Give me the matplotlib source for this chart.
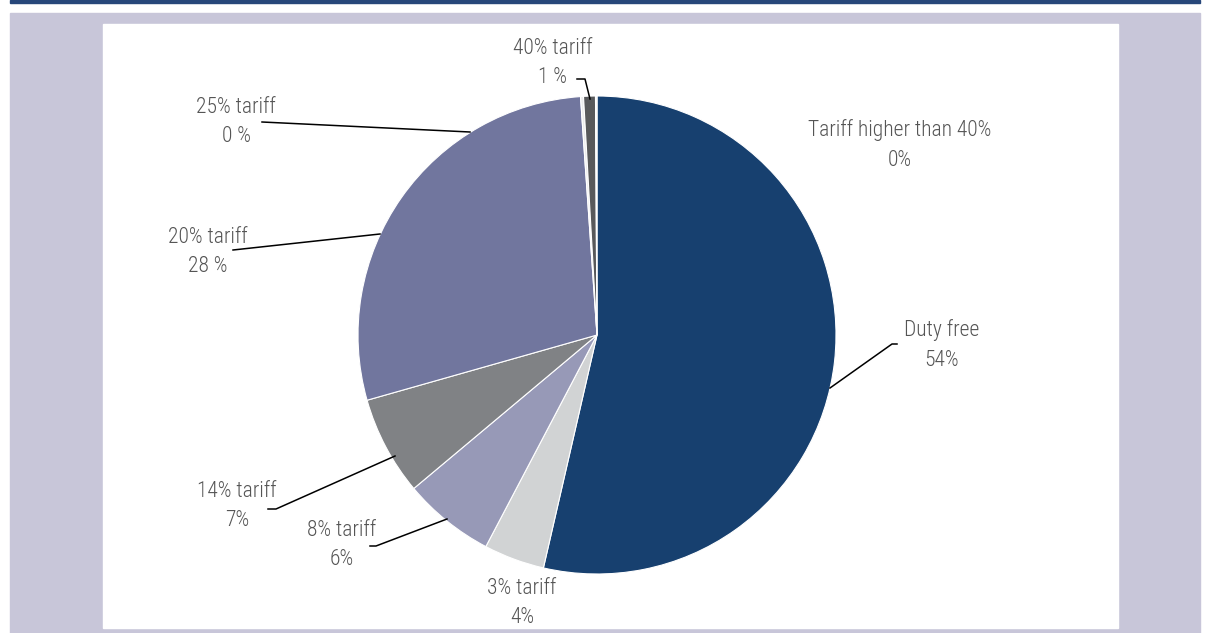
import matplotlib.pyplot as plt
from matplotlib.patches import Rectangle

plt.rcParams['font.family'] = ['Roboto Condensed', 'DejaVu Sans']
plt.rcParams['font.weight'] = 300

# tariff bands, clockwise from 12 o'clock
categories = ['Duty free', '3% tariff', '8% tariff', '14% tariff',
              '20% tariff', '25% tariff', '40% tariff', 'Tariff higher than 40%']
shares = [53.6, 4.1, 6.2, 6.7, 28.3, 0.2, 0.8, 0.1]
share_labels = ['54%', '4%', '6%', '7%', '28 %', '0 %', '1 %', '0%']
colors = ['#17406f', '#d1d3d4', '#9799b7', '#808285',
          '#71769e', '#ececec', '#58595b', '#f4f4f4']

W, H = 1206, 633
fig = plt.figure(figsize=(W / 100, H / 100), dpi=100)
ax = fig.add_axes([0, 0, 1, 1])

# frame: top rule, lavender band, white panel
ax.add_patch(Rectangle((10, 630.5), 1190, 2.5, color='#27477a', zorder=0))
ax.add_patch(Rectangle((10, 0), 1190, 620, color='#c8c6d9', zorder=0))
ax.add_patch(Rectangle((103, 5), 1015, 604, color='white', zorder=0))

cx, cy, r = 597, 298, 239
ax.pie(shares, colors=colors, startangle=90, counterclock=False,
       center=(cx, cy), radius=r, frame=True,
       wedgeprops=dict(edgecolor='white', linewidth=0.8))
ax.set_xlim(0, W)
ax.set_ylim(0, H)
ax.set_aspect('equal')
ax.axis('off')

# label centres (x, y) and leader polylines
label_pos = [(942, 288), (522, 30), (342, 88), (237, 127),
             (208, 381), (236, 511), (553, 570), (900, 488)]
leaders = [
    [(897, 289), (892, 289), (830, 245)],
    None,
    [(370, 87), (376, 87), (447, 114)],
    [(268, 124), (276, 124), (395, 177)],
    [(233, 383), (380, 399)],
    [(262, 511), (470, 501)],
    [(577, 554), (585, 554), (590, 534)],
    None,
]

for name, pct, (x, y), pts in zip(categories, share_labels, label_pos, leaders):
    ax.text(x, y, name + '\n' + pct, ha='center', va='center',
            fontsize=15.5, color='#555555', linespacing=1.55, multialignment='center')
    if pts:
        xs, ys = zip(*pts)
        ax.plot(xs, ys, color='black', lw=1.1, zorder=5)

fig.savefig('out.png', dpi=100, facecolor='white')
